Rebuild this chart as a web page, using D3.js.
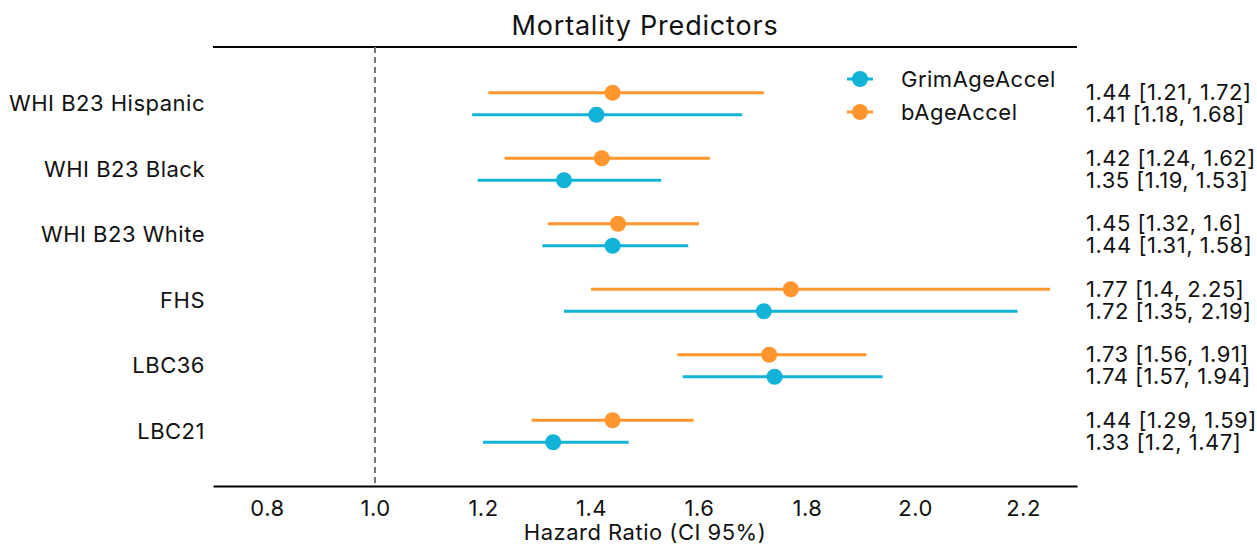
<!DOCTYPE html>
<html>
<head>
<meta charset="utf-8">
<script src="https://cdn.jsdelivr.net/npm/d3@7"></script>
<style>
    body { margin: 0; background: #fff; }
    text { font-family: Inter, "Noto Sans", sans-serif; fill: #111; letter-spacing: 0.5px; }
</style>
</head>
<body>
<svg id="chart" width="1257" height="544"></svg>
<script>
var cohorts = ["WHI B23 Hispanic", "WHI B23 Black", "WHI B23 White", "FHS", "LBC36", "LBC21"];
var seriesNames = ["GrimAgeAccel", "bAgeAccel"];
var grimHR = [1.41, 1.35, 1.44, 1.72, 1.74, 1.33];
var grimLo = [1.18, 1.19, 1.31, 1.35, 1.57, 1.2];
var grimHi = [1.68, 1.53, 1.58, 2.19, 1.94, 1.47];
var bageHR = [1.44, 1.42, 1.45, 1.77, 1.73, 1.44];
var bageLo = [1.21, 1.24, 1.32, 1.4, 1.56, 1.29];
var bageHi = [1.72, 1.62, 1.6, 2.25, 1.91, 1.59];
var xTicks = [0.8, 1.0, 1.2, 1.4, 1.6, 1.8, 2.0, 2.2];

var colors = { GrimAgeAccel: "#12b3d9", bAgeAccel: "#ff962e" };

var svg = d3.select("#chart");
var plotLeft = 213, plotRight = 1077, plotTop = 47, plotBottom = 486;

var x = d3.scaleLinear().domain([0.7, 2.3]).range([plotLeft, plotRight]);
var y = d3.scaleBand().domain(cohorts).range([plotTop + 24, plotBottom - 22]);
var offset = { bAgeAccel: -11, GrimAgeAccel: 11 };

// build rows: one entry per cohort and series
var rows = [];
cohorts.forEach(function (c, i) {
    rows.push({ cohort: c, series: "bAgeAccel", hr: bageHR[i], lo: bageLo[i], hi: bageHi[i] });
    rows.push({ cohort: c, series: "GrimAgeAccel", hr: grimHR[i], lo: grimLo[i], hi: grimHi[i] });
});
function rowY(d) {
    return y(d.cohort) + y.bandwidth() / 2 + offset[d.series];
}

// title
svg.append("text")
    .attr("x", (plotLeft + plotRight) / 2)
    .attr("y", 35)
    .attr("text-anchor", "middle")
    .style("font-size", "27px")
    .style("letter-spacing", "0.8px")
    .text("Mortality Predictors");

// top spine
svg.append("line")
    .attr("x1", plotLeft).attr("x2", plotRight)
    .attr("y1", plotTop).attr("y2", plotTop)
    .attr("stroke", "#000").attr("stroke-width", 2);

// reference line at 1
svg.append("line")
    .attr("x1", x(1)).attr("x2", x(1))
    .attr("y1", plotTop).attr("y2", plotBottom)
    .attr("stroke", "#777")
    .attr("stroke-width", 2)
    .attr("stroke-dasharray", "6,4");

// x axis
var xAxis = svg.append("g")
    .attr("transform", "translate(0," + plotBottom + ")")
    .call(d3.axisBottom(x).tickValues(xTicks).tickSize(0).tickPadding(14).tickFormat(d3.format(".1f")));
xAxis.select(".domain").attr("stroke", "#000").attr("stroke-width", 2);
xAxis.selectAll("text").style("font-size", "22px").attr("fill", "#111");

svg.append("text")
    .attr("x", (plotLeft + plotRight) / 2)
    .attr("y", 540)
    .attr("text-anchor", "middle")
    .style("font-size", "22px")
    .text("Hazard Ratio (CI 95%)");

// y labels
svg.selectAll(".ylabel")
    .data(cohorts)
    .enter().append("text")
    .attr("class", "ylabel")
    .attr("x", 205)
    .attr("y", function (d) { return y(d) + y.bandwidth() / 2; })
    .attr("dy", "0.35em")
    .attr("text-anchor", "end")
    .style("font-size", "22px")
    .text(function (d) { return d; });

// intervals
svg.selectAll(".ci")
    .data(rows)
    .enter().append("line")
    .attr("class", "ci")
    .attr("x1", function (d) { return x(d.lo); })
    .attr("x2", function (d) { return x(d.hi); })
    .attr("y1", rowY).attr("y2", rowY)
    .attr("stroke", function (d) { return colors[d.series]; })
    .attr("stroke-width", 3);

svg.selectAll(".pt")
    .data(rows)
    .enter().append("circle")
    .attr("class", "pt")
    .attr("cx", function (d) { return x(d.hr); })
    .attr("cy", rowY)
    .attr("r", 8)
    .attr("fill", function (d) { return colors[d.series]; });

// value labels on the right
svg.selectAll(".val")
    .data(rows)
    .enter().append("text")
    .attr("class", "val")
    .attr("x", 1086)
    .attr("y", rowY)
    .attr("dy", "0.35em")
    .style("font-size", "22px")
    .text(function (d) { return d.hr + " [" + d.lo + ", " + d.hi + "]"; });

// legend
var legend = svg.append("g").attr("transform", "translate(860,79)");
seriesNames.forEach(function (s, i) {
    var g = legend.append("g").attr("transform", "translate(0," + (i * 33) + ")");
    g.append("line").attr("x1", -13).attr("x2", 13)
        .attr("stroke", colors[s]).attr("stroke-width", 3);
    g.append("circle").attr("r", 8).attr("fill", colors[s]);
    g.append("text").attr("x", 41).attr("dy", "0.35em")
        .style("font-size", "22px").text(s);
});
</script>
</body>
</html>
